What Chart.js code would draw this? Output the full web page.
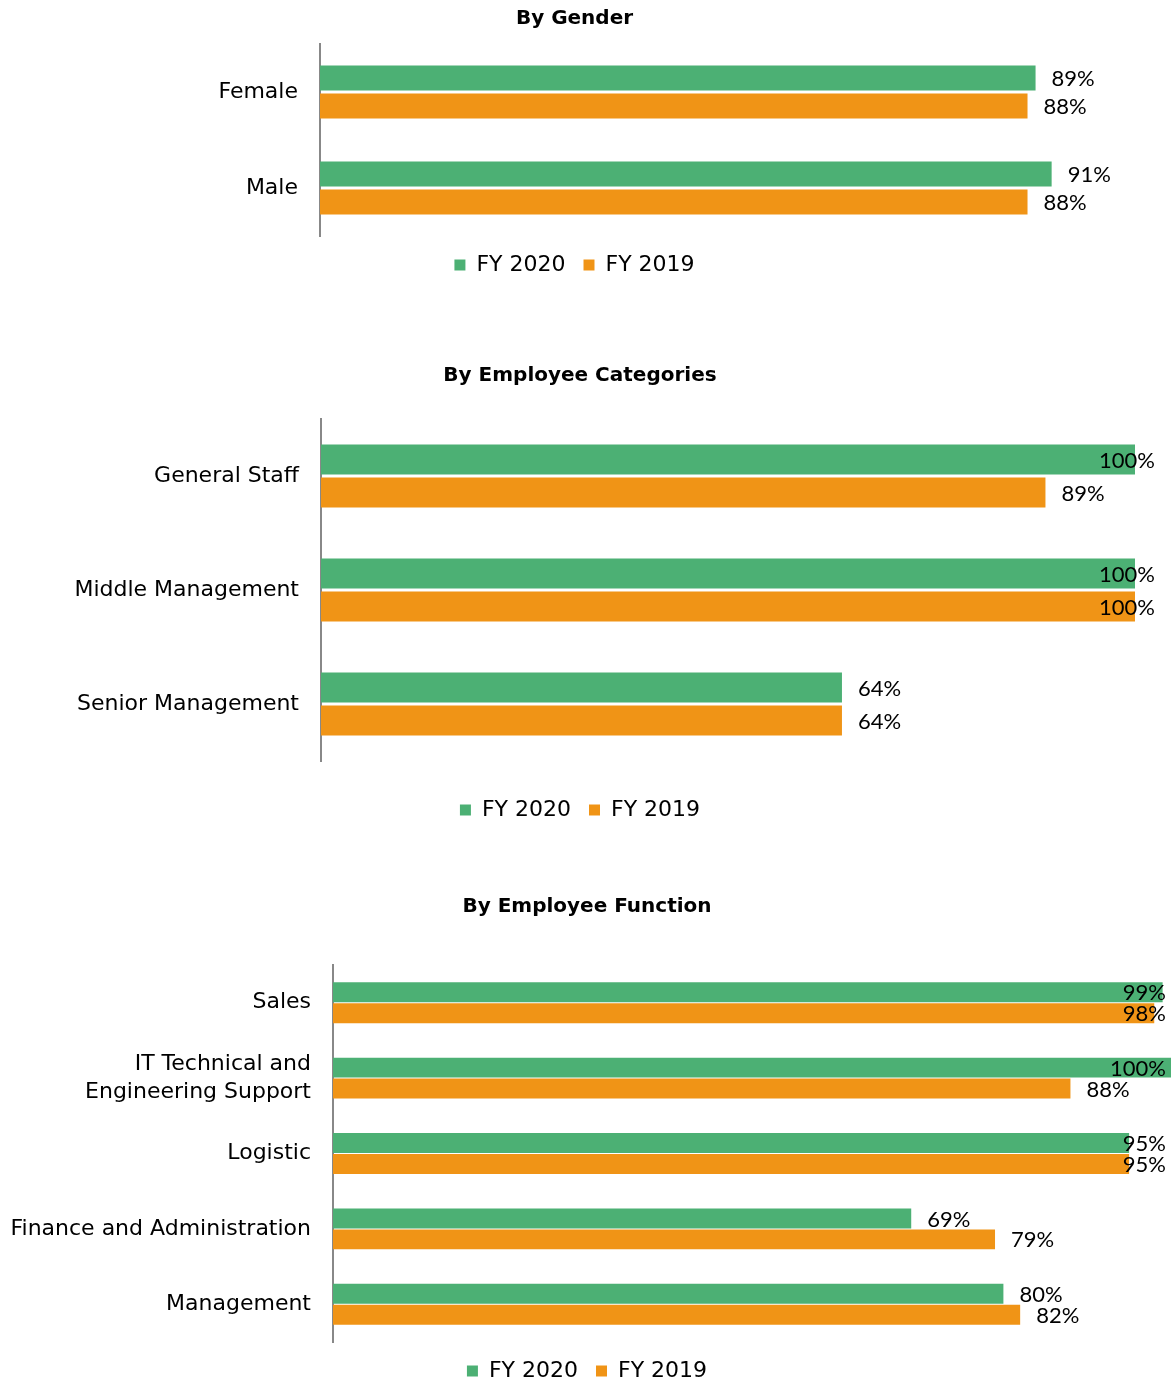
<!DOCTYPE html>
<html>
<head>
<meta charset="utf-8">
<script src="https://cdn.jsdelivr.net/npm/chart.js@4.4.1/dist/chart.umd.min.js"></script>
<style>
  html, body { margin: 0; padding: 0; background: #fff; overflow: hidden; }
  .box { position: absolute; left: 0; width: 1171px; }
</style>
</head>
<body>
<div class="box" style="top:0px;height:286px"><canvas id="genderChart"></canvas></div>
<div class="box" style="top:357px;height:474px"><canvas id="categoryChart"></canvas></div>
<div class="box" style="top:888px;height:504px"><canvas id="functionChart"></canvas></div>

<script>
// 数据
const seriesNames = ['FY 2020', 'FY 2019'];

const genderLabels = ['Female', 'Male'];
const gender2020 = [89, 91];
const gender2019 = [88, 88];

const categoryLabels = ['General Staff', 'Middle Management', 'Senior Management'];
const category2020 = [100, 100, 64];
const category2019 = [89, 100, 64];

const functionLabels = ['Sales', ['IT Technical and', 'Engineering Support'], 'Logistic', 'Finance and Administration', 'Management'];
const function2020 = [99, 100, 95, 69, 80];
const function2019 = [98, 88, 95, 79, 82];

const GREEN = '#4CB074';
const ORANGE = '#F09416';
const LABEL_FONT = "'DejaVu Sans', sans-serif";

// 条形末端的百分比标签
const barLabels = {
    id: 'barLabels',
    afterDatasetsDraw(chart, args, opts) {
        const ctx = chart.ctx;
        ctx.save();
        ctx.font = "22px Lato, 'DejaVu Sans', sans-serif";
        ctx.fillStyle = '#000';
        ctx.textBaseline = 'middle';
        ctx.textAlign = 'left';
        chart.data.datasets.forEach((ds, i) => {
            const meta = chart.getDatasetMeta(i);
            meta.data.forEach((bar, j) => {
                const text = ds.data[j] + '%';
                const w = ctx.measureText(text).width;
                let x = bar.x + 16;
                const maxRight = chart.width - (opts.edge || 5);
                if (x + w > maxRight) x = maxRight - w; // 放不下就往左推
                ctx.fillText(text, x, bar.y + 1);
            });
        });
        ctx.restore();
    }
};

function makeChart(id, title, labels, d2020, d2019, cfg) {
    new Chart(document.getElementById(id), {
        type: 'bar',
        data: {
            labels: labels,
            datasets: [
                { label: seriesNames[0], data: d2020, backgroundColor: GREEN,
                  barPercentage: cfg.barPct, categoryPercentage: cfg.catPct },
                { label: seriesNames[1], data: d2019, backgroundColor: ORANGE,
                  barPercentage: cfg.barPct, categoryPercentage: cfg.catPct }
            ]
        },
        options: {
            indexAxis: 'y',
            responsive: true,
            maintainAspectRatio: false,
            animation: false,
            layout: { padding: { left: cfg.padL, right: cfg.padR, top: 0, bottom: 0 } },
            scales: {
                x: {
                    min: 0,
                    max: 100,
                    ticks: { display: false },
                    grid: { display: false, drawTicks: false },
                    border: { display: false },
                    afterFit: (s) => { s.height = cfg.gap; }
                },
                y: {
                    ticks: {
                        color: '#000',
                        padding: 22,
                        font: { family: LABEL_FONT, size: 22, lineHeight: 1.3 }
                    },
                    grid: { display: false, drawTicks: false },
                    border: { display: true, color: '#888', width: 2 },
                    afterFit: (s) => { s.width = cfg.axisX - cfg.padL; }
                }
            },
            plugins: {
                title: {
                    display: true,
                    text: title,
                    color: '#000',
                    font: { family: LABEL_FONT, size: 20, weight: 'bold', lineHeight: 1.2 },
                    padding: { top: 7, bottom: cfg.titleGap - 2 }
                },
                legend: {
                    display: true,
                    position: 'bottom',
                    labels: {
                        color: '#000',
                        boxWidth: 11,
                        boxHeight: 11,
                        padding: 18,
                        font: { family: LABEL_FONT, size: 22 }
                    }
                },
                tooltip: { enabled: false },
                barLabels: { edge: cfg.edge }
            }
        },
        plugins: [barLabels]
    });
}

makeChart('genderChart', 'By Gender', genderLabels, gender2020, gender2019,
    { axisX: 320, padL: 25, padR: 47, titleGap: 15, gap: 0, barPct: 0.89, catPct: 0.583, edge: 16 });
makeChart('categoryChart', 'By Employee Categories', categoryLabels, category2020, category2019,
    { axisX: 321, padL: 25, padR: 36, titleGap: 33, gap: 20, barPct: 0.91, catPct: 0.579, edge: 16 });
makeChart('functionChart', 'By Employee Function', functionLabels, function2020, function2019,
    { axisX: 333, padL: 3, padR: 0, titleGap: 48, gap: 0, barPct: 0.95, catPct: 0.556, edge: 5 });
</script>
</body>
</html>
